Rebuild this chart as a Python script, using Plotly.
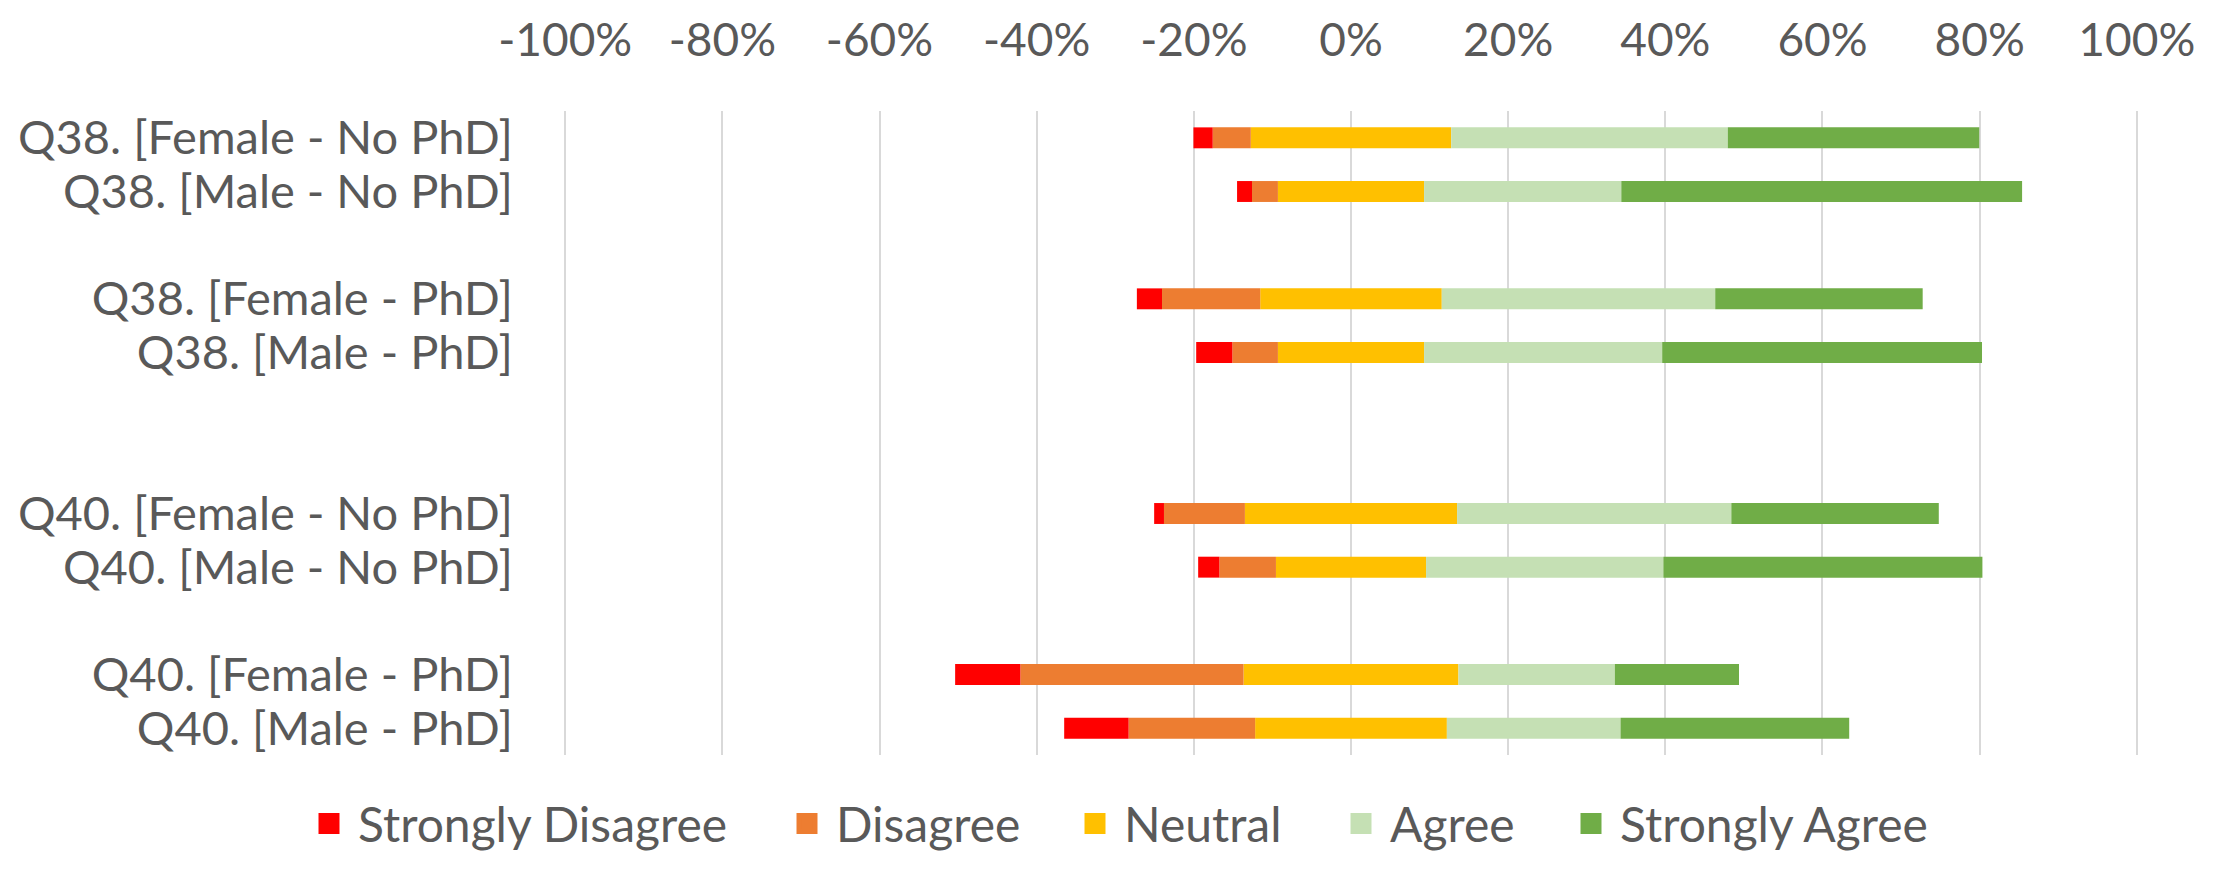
import plotly.graph_objects as go

# ---- data (percent of respondents) ----
categories = [
    "Q38. [Female - No PhD]", "Q38. [Male - No PhD]", " ",
    "Q38. [Female - PhD]", "Q38. [Male - PhD]", "  ", "   ",
    "Q40. [Female - No PhD]", "Q40. [Male - No PhD]", "    ",
    "Q40. [Female - PhD]", "Q40. [Male - PhD]",
]
strongly_disagree = [2.45, 1.9, None, 3.2, 4.6, None, None, 1.25, 2.7, None, 8.3, 8.2]
disagree = [4.85, 3.3, None, 12.5, 5.8, None, None, 10.3, 7.2, None, 28.4, 16.1]
neutral = [25.5, 18.6, None, 23.1, 18.6, None, None, 27.0, 19.1, None, 27.35, 24.4]
agree = [35.2, 25.1, None, 34.8, 30.3, None, None, 34.9, 30.2, None, 19.9, 22.1]
strongly_agree = [32.0, 51.0, None, 26.4, 40.7, None, None, 26.4, 40.6, None, 15.8, 29.1]

series_names = ["Strongly Disagree", "Disagree", "Neutral", "Agree", "Strongly Agree"]
series_colors = ["#FF0000", "#ED7D31", "#FFC000", "#C5E0B4", "#70AD47"]

tick_values = [-1.0, -0.8, -0.6, -0.4, -0.2, 0.0, 0.2, 0.4, 0.6, 0.8, 1.0]
tick_labels = ["-100%", "-80%", "-60%", "-40%", "-20%", "0%", "20%", "40%", "60%", "80%", "100%"]

# left edges of the legend entries (container fraction)
legend_x = [292 / 2226, 770 / 2226, 1058 / 2226, 1324 / 2226, 1554 / 2226]


def scaled(vals, factor):
    return [None if v is None else v * factor / 100.0 for v in vals]


FONT = "Lato"
TXT = "#595959"

fig = go.Figure()

# stacking order: pieces nearest zero first
pieces = [
    (scaled(neutral, -0.5), series_colors[2]),
    (scaled(neutral, 0.5), series_colors[2]),
    (scaled(disagree, -1), series_colors[1]),
    (scaled(agree, 1), series_colors[3]),
    (scaled(strongly_disagree, -1), series_colors[0]),
    (scaled(strongly_agree, 1), series_colors[4]),
]
for vals, col in pieces:
    fig.add_trace(go.Bar(
        y=categories, x=vals, orientation="h",
        marker=dict(color=col, line=dict(width=0)),
        showlegend=False, hoverinfo="skip",
    ))

legend_layouts = {}
for i, (name, col) in enumerate(zip(series_names, series_colors)):
    key = "legend" if i == 0 else f"legend{i + 1}"
    fig.add_trace(go.Scatter(
        x=[None], y=[None], mode="markers", name=name, legend=key,
        marker=dict(symbol="square", size=16, color=col, line=dict(color=col, width=6)),
    ))
    legend_layouts[key] = dict(
        orientation="h", xref="container", yref="container",
        x=legend_x[i], xanchor="left", y=0.075, yanchor="middle",
        font=dict(family=FONT, size=48, color=TXT),
        itemwidth=48, bgcolor="rgba(0,0,0,0)",
    )

fig.update_layout(
    width=2226, height=882,
    barmode="relative", bargap=0.61,
    plot_bgcolor="white", paper_bgcolor="white",
    margin=dict(l=556, r=96, t=103, b=135),
    font=dict(family=FONT, size=46, color=TXT),
    showlegend=True,
    xaxis=dict(
        range=[-1.0015, 1.0015], side="top", tickmode="array",
        tickvals=tick_values, ticktext=tick_labels,
        showgrid=True, gridcolor="#D9D9D9", gridwidth=2, zeroline=False,
        showline=False, ticks="", ticklabelstandoff=45, automargin=False,
        tickfont=dict(family=FONT, size=46, color=TXT),
    ),
    yaxis=dict(
        type="category", categoryorder="array", categoryarray=categories,
        tickmode="array", tickvals=categories, ticktext=categories,
        autorange="reversed", showgrid=False, zeroline=False, showline=False,
        ticks="", ticklabelstandoff=50, automargin=False,
        tickfont=dict(family=FONT, size=47, color=TXT),
    ),
    **legend_layouts,
)

fig.write_html("out.html")
